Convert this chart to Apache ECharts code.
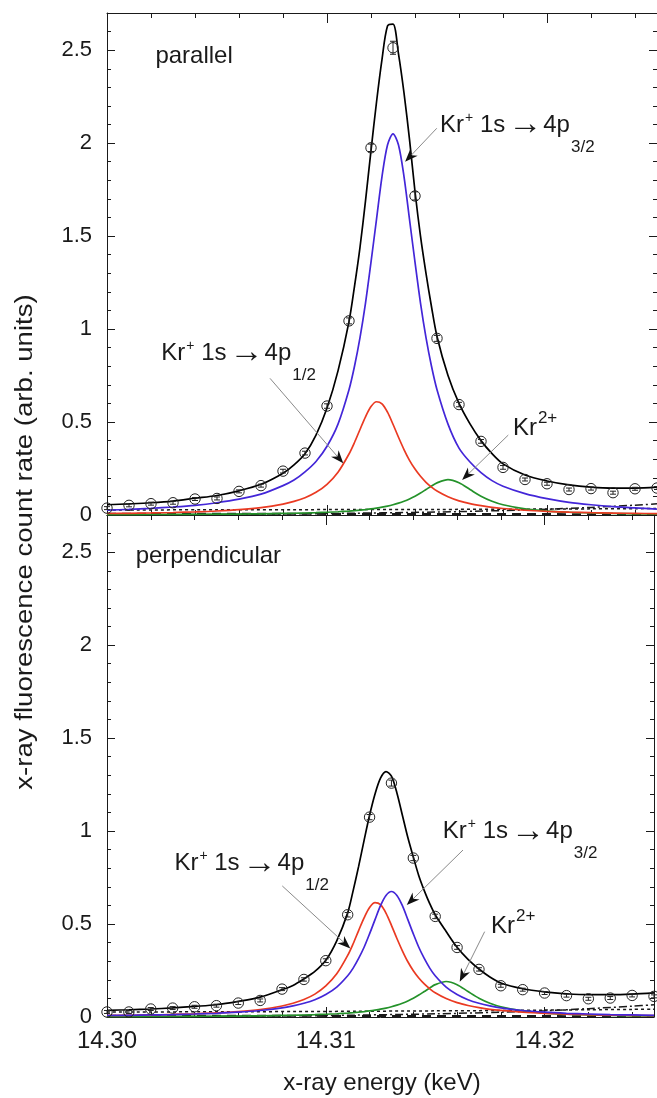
<!DOCTYPE html>
<html><head><meta charset="utf-8">
<script src="https://cdn.jsdelivr.net/npm/echarts@6/dist/echarts.min.js"></script>
<style>html,body{margin:0;padding:0;background:#fff}#c{width:657px;height:1098px}</style>
</head><body><div id="c"></div>
<script>
// ---------- data ----------
const pointEnergy = [14.300,14.301,14.302,14.303,14.304,14.305,14.306,14.307,14.308,14.309,14.310,14.311,14.312,14.313,14.314,14.315,14.316,14.317,14.318,14.319,14.320,14.321,14.322,14.323,14.324,14.325];
const parallelCounts = [0.037,0.052,0.061,0.066,0.086,0.089,0.127,0.158,0.236,0.333,0.586,1.044,1.975,2.513,1.716,0.950,0.594,0.396,0.256,0.191,0.168,0.137,0.142,0.120,0.141,0.145];
const parallelErrors = [0.008,0.008,0.008,0.008,0.008,0.008,0.008,0.008,0.010,0.010,0.012,0.016,0.020,0.035,0.022,0.016,0.012,0.010,0.010,0.008,0.008,0.008,0.008,0.008,0.008,0.008];
const perpCounts = [0.027,0.027,0.043,0.048,0.055,0.061,0.075,0.089,0.150,0.202,0.303,0.550,1.075,1.258,0.855,0.541,0.374,0.256,0.168,0.147,0.129,0.115,0.098,0.102,0.116,0.111];
const perpErrors = [0.008,0.008,0.008,0.008,0.008,0.008,0.008,0.008,0.008,0.009,0.010,0.012,0.014,0.016,0.014,0.012,0.010,0.009,0.008,0.008,0.008,0.008,0.008,0.008,0.008,0.008];

const fitEnergy = [14.300,14.301,14.302,14.303,14.304,14.305,14.306,14.307,14.308,14.3085,14.309,14.3095,14.310,14.3105,14.311,14.31125,14.3115,14.31175,14.312,14.31225,14.3125,14.31275,14.313,14.31325,14.3135,14.31375,14.314,14.31425,14.3145,14.31475,14.315,14.3155,14.316,14.3165,14.317,14.3175,14.318,14.319,14.320,14.321,14.322,14.323,14.324,14.325];
const parallelTotal = [0.055,0.060,0.066,0.075,0.090,0.105,0.130,0.165,0.225,0.270,0.330,0.430,0.575,0.775,1.040,1.230,1.440,1.690,1.960,2.220,2.450,2.630,2.640,2.480,2.270,2.020,1.740,1.500,1.300,1.120,0.960,0.750,0.600,0.490,0.400,0.330,0.275,0.215,0.183,0.162,0.150,0.145,0.145,0.150];
const parallelP32 = [0.026,0.030,0.036,0.043,0.052,0.066,0.085,0.112,0.158,0.188,0.232,0.288,0.370,0.489,0.674,0.800,0.954,1.140,1.360,1.590,1.820,1.990,2.050,1.990,1.820,1.590,1.360,1.140,0.954,0.800,0.674,0.489,0.360,0.285,0.228,0.185,0.155,0.115,0.088,0.068,0.055,0.045,0.038,0.032];
const parallelP12 = [0.008,0.009,0.011,0.0135,0.017,0.0216,0.0287,0.040,0.0585,0.073,0.093,0.122,0.165,0.230,0.328,0.390,0.460,0.528,0.583,0.609,0.598,0.553,0.488,0.418,0.352,0.294,0.247,0.208,0.176,0.150,0.129,0.098,0.076,0.061,0.050,0.041,0.035,0.0255,0.0195,0.0154,0.0124,0.0103,0.0086,0.0073];
const parallelKr2 = [0.0020,0.0023,0.0026,0.0031,0.0036,0.0043,0.0052,0.0065,0.0083,0.0094,0.0108,0.0126,0.0148,0.0176,0.0213,0.0236,0.0262,0.0293,0.0328,0.0371,0.042,0.048,0.0552,0.0638,0.0741,0.0865,0.101,0.118,0.137,0.156,0.173,0.190,0.173,0.137,0.101,0.0741,0.0552,0.0328,0.0213,0.0148,0.0108,0.0083,0.0065,0.0052];
const perpTotal = [0.036,0.039,0.043,0.049,0.057,0.066,0.084,0.107,0.147,0.170,0.205,0.245,0.305,0.410,0.560,0.680,0.810,0.950,1.085,1.200,1.285,1.320,1.295,1.205,1.085,0.965,0.860,0.760,0.680,0.610,0.550,0.460,0.375,0.310,0.258,0.215,0.183,0.152,0.135,0.125,0.120,0.120,0.123,0.130];
const perpP32 = [0.008,0.009,0.011,0.013,0.016,0.020,0.026,0.035,0.049,0.060,0.074,0.093,0.121,0.161,0.222,0.263,0.315,0.375,0.447,0.524,0.599,0.654,0.675,0.654,0.599,0.524,0.447,0.375,0.315,0.263,0.222,0.161,0.121,0.093,0.074,0.060,0.049,0.035,0.026,0.020,0.016,0.013,0.011,0.009];
const perpP12 = [0.008,0.009,0.011,0.0136,0.0172,0.0218,0.029,0.0404,0.059,0.0737,0.094,0.123,0.167,0.232,0.331,0.394,0.465,0.533,0.589,0.615,0.604,0.559,0.493,0.422,0.356,0.297,0.249,0.210,0.178,0.152,0.130,0.099,0.077,0.062,0.0505,0.0414,0.0354,0.0258,0.0197,0.0156,0.0125,0.0104,0.0087,0.0074];
const perpKr2 = [0.0020,0.0023,0.0026,0.0031,0.0036,0.0043,0.0052,0.0065,0.0083,0.0094,0.0108,0.0126,0.0148,0.0176,0.0213,0.0236,0.0262,0.0293,0.0328,0.0371,0.042,0.048,0.0552,0.0638,0.0741,0.0865,0.101,0.118,0.137,0.156,0.174,0.191,0.174,0.137,0.101,0.0741,0.0552,0.0328,0.0213,0.0148,0.0108,0.0083,0.0065,0.0052];

const bgEnergy = [14.300,14.305,14.310,14.315,14.318,14.320,14.322,14.324,14.325];
const parallelBgDotted = [0.027,0.028,0.029,0.030,0.031,0.032,0.033,0.034,0.035];
const parallelBgDashDot = [0.000,0.003,0.008,0.016,0.024,0.031,0.041,0.053,0.060];
const parallelBgDash = [0.007,0.007,0.006,0.006,0.005,0.005,0.004,0.004,0.004];
const perpBgDotted = [0.027,0.028,0.030,0.033,0.035,0.037,0.039,0.041,0.042];
const perpBgDashDot = [0.000,0.003,0.008,0.017,0.026,0.034,0.045,0.058,0.066];
const perpBgDash = [0.007,0.007,0.006,0.006,0.005,0.005,0.004,0.004,0.004];

const panelTitles = ['parallel', 'perpendicular'];
const xAxisTitle = 'x-ray energy (keV)';
const yAxisTitle = 'x-ray fluorescence count rate (arb. units)';

// ---------- styling ----------
const FONT = 'Liberation Sans';
const INK = '#1a1a1a';
const C_BLUE = '#4326d8', C_RED = '#ea3a22', C_GREEN = '#24922a';

function xMajor(grid, pos, showLabel) {
  return {type:'value', gridIndex:grid, position:pos, min:14.30, max:14.325, interval:0.01,
    axisLine:{show:true, onZero:false, lineStyle:{color:INK, width:1}},
    axisTick:{show:true, inside:true, length:10, lineStyle:{color:INK, width:1}},
    axisLabel:{show:showLabel, margin:12, fontSize:24, color:INK, fontFamily:FONT,
      formatter: v => Math.abs(v*100 - Math.round(v*100)) < 1e-6 ? v.toFixed(2) : ''},
    splitLine:{show:false}};
}
function xMinor(grid, pos) {
  return {type:'value', gridIndex:grid, position:pos, min:14.30, max:14.325, interval:0.002,
    axisLine:{show:false, onZero:false}, axisLabel:{show:false}, splitLine:{show:false},
    axisTick:{show:true, inside:true, length:5, lineStyle:{color:INK, width:1}}};
}
function yMajor(grid, pos, showLabel) {
  return {type:'value', gridIndex:grid, position:pos, min:0, max:2.7, interval:0.5,
    axisLine:{show:true, onZero:false, lineStyle:{color:INK, width:1}},
    axisTick:{show:true, inside:true, length:8, lineStyle:{color:INK, width:1}},
    axisLabel:{show:showLabel, margin:15, fontSize:22, color:INK, fontFamily:FONT,
      formatter: v => Math.abs(v*2 - Math.round(v*2)) < 1e-6 ? String(+v.toFixed(1)) : ''},
    splitLine:{show:false}};
}
function yMinor(grid, pos) {
  return {type:'value', gridIndex:grid, position:pos, min:0, max:2.7, interval:0.1,
    axisLine:{show:false, onZero:false}, axisLabel:{show:false}, splitLine:{show:false},
    axisTick:{show:true, inside:true, length:4, lineStyle:{color:INK, width:1}}};
}

function lineSeries(panel, xs, ys, color, width, type, z, smooth) {
  return {type:'line', xAxisIndex:panel*4, yAxisIndex:panel*4,
    data: xs.map((x,i)=>[x, ys[i]]), symbol:'none', showSymbol:false,
    smooth: smooth === undefined ? 0.3 : smooth, silent:true, z:z,
    lineStyle:{color:color, width:width, type:type}};
}
function pointSeries(panel, ys, errs) {
  return {type:'custom', xAxisIndex:panel*4, yAxisIndex:panel*4, z:10, silent:true,
    data: pointEnergy.map((x,i)=>[x, ys[i], errs[i]]),
    encode:{x:0, y:1},
    renderItem: function(params, api) {
      const x = api.value(0), y = api.value(1), e = api.value(2);
      const c = api.coord([x, y]), hi = api.coord([x, y+e]), lo = api.coord([x, y-e]);
      const st = {stroke:'#222', lineWidth:1, fill:null};
      return {type:'group', children:[
        {type:'circle', shape:{cx:c[0], cy:c[1], r:5.2}, style:{stroke:'#222', lineWidth:1, fill:'transparent'}},
        {type:'line', shape:{x1:c[0], y1:hi[1], x2:c[0], y2:lo[1]}, style:st},
        {type:'line', shape:{x1:c[0]-3, y1:hi[1], x2:c[0]+3, y2:hi[1]}, style:st},
        {type:'line', shape:{x1:c[0]-3, y1:lo[1], x2:c[0]+3, y2:lo[1]}, style:st}
      ]};
    }};
}

const series = [];
[[parallelTotal, parallelP32, parallelP12, parallelKr2, parallelBgDotted, parallelBgDashDot, parallelBgDash, parallelCounts, parallelErrors],
 [perpTotal, perpP32, perpP12, perpKr2, perpBgDotted, perpBgDashDot, perpBgDash, perpCounts, perpErrors]]
.forEach((d, p) => {
  series.push(lineSeries(p, bgEnergy, d[6], INK, 2, [9,6], 3, false));
  series.push(lineSeries(p, bgEnergy, d[5], INK, 1.5, [8,3,2,3], 3, 0.3));
  series.push(lineSeries(p, bgEnergy, d[4], INK, 1.5, [3,3], 3, 0.3));
  series.push(lineSeries(p, fitEnergy, d[3], C_GREEN, 1.7, 'solid', 4));
  series.push(lineSeries(p, fitEnergy, d[2], C_RED, 1.7, 'solid', 4));
  series.push(lineSeries(p, fitEnergy, d[1], C_BLUE, 1.7, 'solid', 5));
  series.push(lineSeries(p, fitEnergy, d[0], '#000', 1.7, 'solid', 6));
  series.push(pointSeries(p, d[7], d[8]));
});

const chart = echarts.init(document.getElementById('c'), null, {renderer:'canvas', width:657, height:1098});
chart.setOption({
  animation:false,
  backgroundColor:'#fff',
  grid:[{left:107, top:13, width:550, height:502}, {left:107, top:515, width:550, height:502}],
  xAxis:[xMajor(0,'bottom',false), xMinor(0,'bottom'), xMajor(0,'top',false), xMinor(0,'top'),
         xMajor(1,'bottom',true), xMinor(1,'bottom'), xMajor(1,'top',false), xMinor(1,'top')],
  yAxis:[yMajor(0,'left',true), yMinor(0,'left'), yMajor(0,'right',false), yMinor(0,'right'),
         yMajor(1,'left',true), yMinor(1,'left'), yMajor(1,'right',false), yMinor(1,'right')],
  series: series
});

// ---------- annotations ----------
// parts: [text, fontSize, dy, gapBefore]
const KR_P32 = [['Kr',24,0,0],['+',14,-7,1],[' 1s',24,0,0],['\u2192',34,0,3],['4p',24,0,1],['3/2',17,22,1]];
const KR_P12 = [['Kr',24,0,0],['+',14,-7,1],[' 1s',24,0,0],['\u2192',34,0,3],['4p',24,0,1],['1/2',17,22,1]];
const KR_2 = [['Kr',24,0,0],['2+',17,-10,1]];
const annotations = [
  {panel:0, parts:KR_P32, text:[14.31514,2.098], from:[14.31499,2.080], tip:[14.31355,1.900]},
  {panel:0, parts:KR_P12, text:[14.30247,0.871], from:[14.30741,0.735], tip:[14.31074,0.278]},
  {panel:0, parts:KR_2,   text:[14.31845,0.468], from:[14.31824,0.430], tip:[14.31614,0.188]},
  {panel:1, parts:KR_P12, text:[14.30308,0.827], from:[14.30801,0.705], tip:[14.31112,0.369]},
  {panel:1, parts:KR_P32, text:[14.31535,0.997], from:[14.31627,0.898], tip:[14.31370,0.602]},
  {panel:1, parts:KR_2,   text:[14.31755,0.486], from:[14.31726,0.459], tip:[14.31612,0.190]}
];
const titleAt = [[14.30220,2.465],[14.30131,2.476]];

const mctx = document.createElement('canvas').getContext('2d');
function tw(t, size) { mctx.font = size + 'px "' + FONT + '"'; return mctx.measureText(t).width; }
function px(panel, pt) { return chart.convertToPixel({xAxisIndex:panel*4, yAxisIndex:panel*4}, pt); }
function txt(x, y, t, size) {
  return {type:'text', x:x, y:y, z:100, silent:true,
    style:{text:t, fontSize:size, fontFamily:FONT, fill:INK,
      align:'left', verticalAlign:'middle', textAlign:'left', textVerticalAlign:'middle'}};
}

const g = [];
annotations.forEach(a => {
  const t = px(a.panel, a.text);
  let cx = t[0];
  a.parts.forEach(pt => {
    cx += pt[3];
    g.push(txt(cx, t[1] + pt[2], pt[0], pt[1]));
    cx += tw(pt[0], pt[1]);
  });
  const s = px(a.panel, a.from), e = px(a.panel, a.tip);
  const dx = e[0]-s[0], dy = e[1]-s[1], L = Math.hypot(dx, dy);
  const ux = dx/L, uy = dy/L, nx = -uy, ny = ux;
  const AL = 13, AW = 5, NOTCH = 4;
  g.push({type:'line', z:99, silent:true, shape:{x1:s[0], y1:s[1], x2:e[0]-ux*(AL-NOTCH), y2:e[1]-uy*(AL-NOTCH)},
    style:{stroke:'#8a8a8a', lineWidth:1}});
  g.push({type:'polygon', z:100, silent:true, shape:{points:[
    [e[0], e[1]],
    [e[0]-ux*AL+nx*AW, e[1]-uy*AL+ny*AW],
    [e[0]-ux*(AL-NOTCH), e[1]-uy*(AL-NOTCH)],
    [e[0]-ux*AL-nx*AW, e[1]-uy*AL-ny*AW]
  ]}, style:{fill:'#111'}});
});
panelTitles.forEach((t, p) => {
  const q = px(p, titleAt[p]);
  g.push(txt(q[0], q[1], t, 24));
});
g.push({type:'text', x:382, y:1083, z:100, silent:true,
  style:{text:xAxisTitle, fontSize:24, fontFamily:FONT, fill:INK, align:'center', verticalAlign:'middle', textAlign:'center', textVerticalAlign:'middle'}});
g.push({type:'text', x:26, y:542, z:100, silent:true, rotation:Math.PI/2, scaleX:1.2,
  style:{text:yAxisTitle, fontSize:23, fontFamily:FONT, fill:INK, align:'center', verticalAlign:'middle', textAlign:'center', textVerticalAlign:'middle'}});
chart.setOption({graphic:{elements:g}});
</script>
</body></html>
